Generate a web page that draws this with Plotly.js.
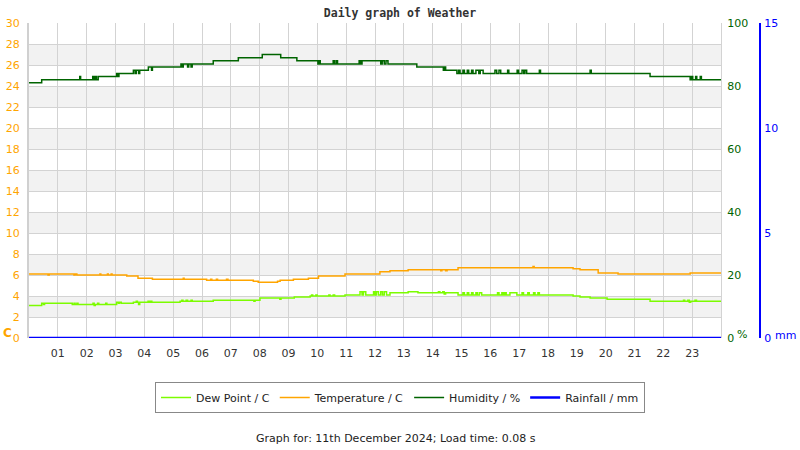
<!DOCTYPE html>
<html>
<head>
<meta charset="utf-8">
<script src="https://cdn.plot.ly/plotly-3.0.1.min.js"></script>
<style>
  html, body { margin: 0; padding: 0; background: #ffffff; }
  #chart { width: 800px; height: 450px; }
</style>
</head>
<body>
<div id="chart"></div>
<script>
// ---------- data (hours of day) ----------
const hourTicks  = [1,2,3,4,5,6,7,8,9,10,11,12,13,14,15,16,17,18,19,20,21,22,23];
const hourLabels = ["01","02","03","04","05","06","07","08","09","10","11","12","13","14","15","16","17","18","19","20","21","22","23"];

const dewTime = [0, 0.44, 0.5, 0.54, 1.5, 1.56, 1.6, 1.66, 1.7, 2.22, 2.26, 2.3, 2.38, 2.42, 2.66, 2.7,
  3.04, 3.1, 3.14, 3.2, 3.62, 3.72, 3.76, 3.8, 3.84, 4.13, 4.18, 4.22, 4.26,
  5.24, 5.3, 5.34, 5.45, 5.5, 5.62, 5.66, 6.39, 7.8, 7.84, 8.01, 8.7, 8.74, 9.2, 9.75,
  9.8, 9.84, 9.95, 9.99, 10.4, 10.44, 10.55, 10.6, 10.96,
  11.48, 11.55, 11.6, 11.68, 11.95, 12.0, 12.05, 12.12, 12.2, 12.26, 12.32, 12.4,
  12.52, 13.15, 13.49, 14.2, 14.25, 14.35, 14.4, 14.45,
  14.88, 15.05, 15.1, 15.2, 15.25, 15.35, 15.4, 15.5, 15.55, 15.62, 15.7,
  16.25, 16.3, 16.4, 16.45, 16.5, 16.55, 16.68, 16.92,
  17.1, 17.15, 17.3, 17.35, 17.5, 17.55, 17.65, 17.7,
  18.87, 19.11, 19.46, 20.05, 21.54, 22.7, 22.74, 22.85, 22.9, 22.95, 23.1, 23.15, 24];
const dewValue = [3.1, 3.3, 3.2, 3.3, 3.2, 3.3, 3.2, 3.3, 3.2, 3.3, 3.1, 3.2, 3.3, 3.2, 3.3, 3.2,
  3.4, 3.3, 3.4, 3.3, 3.4, 3.5, 3.4, 3.2, 3.4, 3.5, 3.4, 3.5, 3.4,
  3.5, 3.6, 3.5, 3.6, 3.5, 3.6, 3.5, 3.6, 3.5, 3.6, 3.8, 3.7, 3.8, 3.9, 4.0,
  4.1, 4.0, 4.1, 4.0, 4.1, 4.0, 4.1, 4.0, 4.1,
  4.4, 4.1, 4.4, 4.1, 4.4, 4.1, 4.4, 4.1, 4.4, 4.1, 4.4, 4.1,
  4.3, 4.4, 4.3, 4.4, 4.3, 4.4, 4.2, 4.3,
  4.1, 4.3, 4.1, 4.3, 4.1, 4.3, 4.1, 4.3, 4.1, 4.3, 4.1,
  4.3, 4.1, 4.3, 4.1, 4.3, 4.1, 4.3, 4.1,
  4.3, 4.1, 4.3, 4.1, 4.3, 4.1, 4.3, 4.1,
  4.0, 3.9, 3.8, 3.7, 3.5, 3.6, 3.5, 3.6, 3.4, 3.5, 3.6, 3.5, 3.5];

const tempTime = [0, 0.66, 0.7, 1.56, 1.6, 1.66, 2.46, 2.49, 2.72, 2.75, 2.85, 2.88,
  3.39, 3.78, 4.28, 5.35, 5.38, 6.16, 6.3, 6.34, 6.5, 6.54, 6.85, 6.9,
  7.78, 7.95, 8.62, 8.71, 9.17, 9.69, 10.04, 10.96, 12.17, 12.52, 13.15,
  14.28, 14.32, 14.45, 14.5, 14.88, 17.48, 17.52, 18.87, 19.11, 19.74, 20.43, 22.93, 24];
const tempValue = [6.1, 6.0, 6.1, 6.0, 6.1, 6.0, 6.1, 6.0, 6.1, 6.0, 6.1, 6.0,
  5.9, 5.7, 5.6, 5.7, 5.6, 5.5, 5.6, 5.5, 5.6, 5.5, 5.6, 5.5,
  5.4, 5.3, 5.4, 5.5, 5.6, 5.7, 5.9, 6.1, 6.3, 6.4, 6.5,
  6.4, 6.5, 6.4, 6.5, 6.7, 6.8, 6.7, 6.6, 6.5, 6.2, 6.1, 6.2, 6.2];

const humTime = [0, 0.44, 1.76, 1.79, 2.21, 2.25, 2.3, 2.34, 2.4, 3.04, 3.08, 3.12,
  3.62, 3.68, 3.72, 3.8, 3.84, 4.14, 4.25, 4.28, 5.27, 5.31, 5.35, 5.5, 5.54, 5.62, 5.66,
  6.39, 7.26, 8.09, 8.73, 9.29, 10.02, 10.06, 10.1, 10.55, 10.6, 10.66, 10.7,
  11.45, 11.5, 11.55, 12.2, 12.25, 12.32, 12.38, 12.45, 13.45,
  14.37, 14.41, 14.45, 14.84, 14.9, 14.95, 15.05, 15.1, 15.2, 15.25, 15.35, 15.4, 15.5, 15.6, 15.65, 15.75,
  16.16, 16.22, 16.3, 16.36, 16.6, 16.64, 16.93, 16.98, 17.1, 17.16, 17.2, 17.26, 17.7, 17.74,
  19.46, 19.5, 21.54, 22.93, 22.97, 23.02, 23.12, 23.16, 23.28, 23.32, 24];
const humValue = [81, 82, 83, 82, 83, 82, 83, 82, 83, 84, 83, 84,
  85, 84, 85, 84, 85, 86, 85, 86, 87, 86, 87, 86, 87, 86, 87,
  88, 89, 90, 89, 88, 87, 88, 87, 88, 87, 88, 87,
  88, 87, 88, 87, 88, 87, 88, 87, 86,
  85, 86, 85, 84, 85, 84, 85, 84, 85, 84, 85, 84, 85, 84, 85, 84,
  85, 84, 85, 84, 85, 84, 85, 84, 85, 84, 85, 84, 85, 84,
  85, 84, 83, 82, 83, 82, 83, 82, 83, 82, 82];

const rainTime  = [0, 24];
const rainValue = [0, 0];

// ---------- styling ----------
const FONT = "DejaVu Sans, sans-serif";
const W = 800, H = 450;
const plotLeft = 29, plotRight = 721, plotTop = 23, plotBottom = 338, marginR = 10;
const areaW = W - plotLeft - marginR;
const areaH = plotBottom - plotTop;
const xDomainEnd = (plotRight - plotLeft) / areaW;
const rainAxisPos = (760 - plotLeft) / areaW;
const px = x => (x - plotLeft) / areaW;      // pixel -> paper x
const py = y => (plotBottom - y) / areaH;    // pixel -> paper y

const traces = [
  { x: dewTime, y: dewValue, name: "Dew Point / C", type: "scatter", mode: "lines",
    line: { color: "#7CFC00", width: 1.5, shape: "hv" }, yaxis: "y" },
  { x: tempTime, y: tempValue, name: "Temperature / C", type: "scatter", mode: "lines",
    line: { color: "#FFA500", width: 1.5, shape: "hv" }, yaxis: "y" },
  { x: humTime, y: humValue, name: "Humidity / %", type: "scatter", mode: "lines",
    line: { color: "#006400", width: 1.5, shape: "hv" }, yaxis: "y2" },
  { x: rainTime, y: rainValue, name: "Rainfall / mm", type: "scatter", mode: "lines",
    line: { color: "#0000FF", width: 2.5, shape: "hv" }, yaxis: "y3" }
];

// alternating horizontal bands (grey between 2-4, 6-8, ...)
const yMin = 0, yMax = 30, yStep = 2;
const shapes = [];
for (let v = yMin + yStep; v < yMax; v += 2 * yStep) {
  shapes.push({ type: "rect", xref: "x", yref: "y", x0: 0, x1: 24, y0: v, y1: v + yStep,
    fillcolor: "#f2f2f2", line: { width: 0 }, layer: "below" });
}

const layout = {
  width: W, height: H,
  margin: { l: plotLeft, r: marginR, t: plotTop, b: H - plotBottom, pad: 0 },
  paper_bgcolor: "#ffffff", plot_bgcolor: "#ffffff",
  font: { family: FONT, size: 11, color: "#333333" },
  title: { text: "Daily graph of Weather", font: { family: "DejaVu Sans Mono, monospace", size: 11.5, color: "#333333", weight: "bold" },
    x: 0.5, xref: "container", xanchor: "center", y: 1 - 13 / H, yref: "container", yanchor: "middle" },
  showlegend: true,
  legend: { orientation: "h", xref: "container", yref: "container", x: 0.5, xanchor: "center",
    y: 1 - 382 / H, yanchor: "top", bordercolor: "#888888", borderwidth: 1,
    font: { family: FONT, size: 11, color: "#222222" }, itemwidth: 30, traceorder: "normal" },
  xaxis: { domain: [0, xDomainEnd], range: [0, 24], tickmode: "array", tickvals: hourTicks, ticktext: hourLabels,
    showgrid: true, gridcolor: "#d3d3d3", gridwidth: 1, zeroline: false, showline: false,
    ticks: "outside", ticklen: 5, tickcolor: "rgba(0,0,0,0)", tickfont: { family: FONT, size: 11, color: "#333333" } },
  yaxis: { range: [yMin, yMax], dtick: yStep, tick0: 0, showgrid: true, gridcolor: "#d3d3d3", gridwidth: 1,
    zeroline: false, showline: true, linecolor: "#d0d0d0", linewidth: 2,
    ticks: "outside", ticklen: 5, tickcolor: "rgba(0,0,0,0)", tickfont: { family: FONT, size: 11, color: "#FFA500" } },
  yaxis2: { overlaying: "y", side: "right", anchor: "x", range: [0, 100], dtick: 20, showgrid: false, zeroline: false,
    showline: true, linecolor: "#d3d3d3", linewidth: 1,
    ticks: "outside", ticklen: 3, tickcolor: "rgba(0,0,0,0)", tickfont: { family: FONT, size: 11, color: "#006400" } },
  yaxis3: { overlaying: "y", side: "right", anchor: "free", position: rainAxisPos, range: [0, 15], dtick: 5,
    showgrid: false, zeroline: false, showline: true, linecolor: "#0000FF", linewidth: 2,
    ticks: "outside", ticklen: 1, tickcolor: "rgba(0,0,0,0)", tickfont: { family: FONT, size: 11, color: "#0000FF" } },
  shapes: shapes,
  annotations: [
    { text: "C", xref: "paper", yref: "paper", x: px(1), y: py(333), xanchor: "left", yanchor: "middle",
      showarrow: false, font: { family: FONT, size: 12, color: "#FFA500", weight: "bold" } },
    { text: "%", xref: "paper", yref: "paper", x: px(735), y: py(334), xanchor: "left", yanchor: "middle",
      showarrow: false, font: { family: FONT, size: 11, color: "#006400" } },
    { text: "mm", xref: "paper", yref: "paper", x: px(773), y: py(335), xanchor: "left", yanchor: "middle",
      showarrow: false, font: { family: FONT, size: 11, color: "#0000FF" } },
    { text: "Graph for: 11th December 2024; Load time: 0.08 s", xref: "paper", yref: "paper",
      x: px(396), y: py(438), xanchor: "center", yanchor: "middle", showarrow: false,
      font: { family: FONT, size: 11, color: "#222222" } }
  ]
};

Plotly.newPlot("chart", traces, layout, { staticPlot: true, displayModeBar: false });
</script>
</body>
</html>
